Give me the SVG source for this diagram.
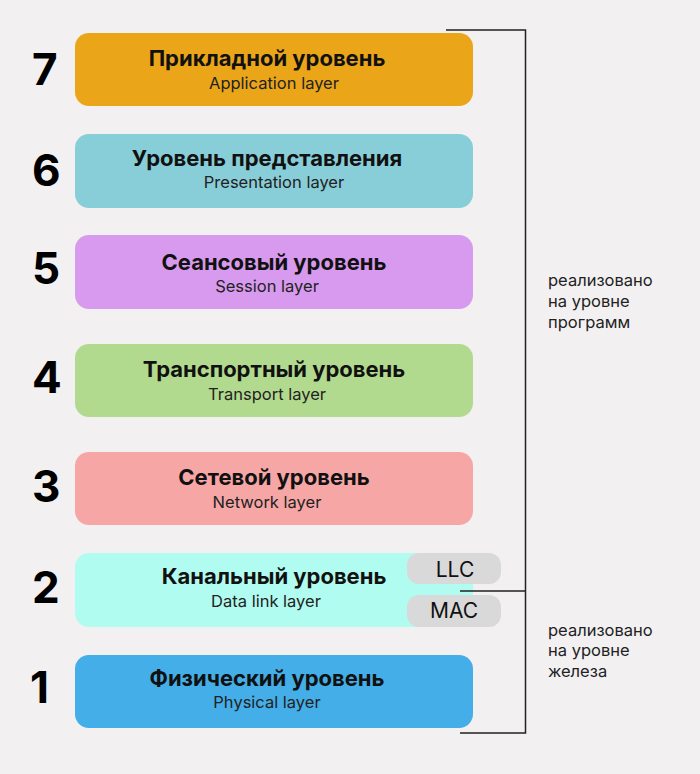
<svg xmlns="http://www.w3.org/2000/svg" width="700" height="774" viewBox="0 0 700 774">
<style>
.num{font-family:Inter,"Liberation Sans",sans-serif;font-weight:700;font-size:44px;fill:#000}
.t{font-family:Inter,"Liberation Sans",sans-serif;font-weight:700;font-size:22px;fill:#111;text-anchor:middle}
.s{font-family:Inter,"Liberation Sans",sans-serif;font-size:16.5px;fill:#222;text-anchor:middle}
.p{font-family:Inter,"Liberation Sans",sans-serif;font-size:21px;fill:#111;text-anchor:middle}
.n{font-family:Inter,"Liberation Sans",sans-serif;font-size:16.5px;fill:#222}
.br{fill:none;stroke:#222;stroke-width:1.5}
</style>
<rect width="700" height="774" fill="#F2F0F1"/>
<g id="layer7">
<rect x="75" y="33" width="398" height="73" rx="14" fill="#EBA519"/>
<text class="num" x="32" y="85">7</text>
<text class="t" x="267" y="66">Прикладной уровень</text>
<text class="s" x="274" y="89">Application layer</text>
</g>
<g id="layer6">
<rect x="75" y="134" width="398" height="74" rx="14" fill="#88CED9"/>
<text class="num" x="32" y="186">6</text>
<text class="t" x="267" y="166">Уровень представления</text>
<text class="s" x="274" y="188">Presentation layer</text>
</g>
<g id="layer5">
<rect x="75" y="235" width="398" height="74" rx="14" fill="#D89AEE"/>
<text class="num" x="32" y="284">5</text>
<text class="t" x="274" y="270">Сеансовый уровень</text>
<text class="s" x="267" y="292">Session layer</text>
</g>
<g id="layer4">
<rect x="75" y="344" width="398" height="73" rx="14" fill="#B2DA8E"/>
<text class="num" x="32" y="393">4</text>
<text class="t" x="274" y="377">Транспортный уровень</text>
<text class="s" x="267" y="400">Transport layer</text>
</g>
<g id="layer3">
<rect x="75" y="452" width="398" height="73" rx="14" fill="#F7A6A6"/>
<text class="num" x="32" y="502">3</text>
<text class="t" x="274" y="485">Сетевой уровень</text>
<text class="s" x="267" y="508">Network layer</text>
</g>
<g id="layer2">
<rect x="75" y="553" width="398" height="74" rx="14" fill="#B1FCF0"/>
<text class="num" x="32" y="603">2</text>
<text class="t" x="274" y="584">Канальный уровень</text>
<text class="s" x="266" y="607">Data link layer</text>
</g>
<g id="llc">
<rect x="407" y="553" width="94" height="31" rx="12" fill="#D9D9D9"/>
<text class="p" x="455" y="577">LLC</text>
</g>
<g id="mac">
<rect x="407" y="595" width="94" height="32" rx="12" fill="#D9D9D9"/>
<text class="p" x="454" y="618">MAC</text>
</g>
<g id="layer1">
<rect x="75" y="655" width="398" height="73" rx="14" fill="#43AEE8"/>
<text class="num" x="30" y="703">1</text>
<text class="t" x="267" y="686">Физический уровень</text>
<text class="s" x="267" y="708">Physical layer</text>
</g>
<g id="connectors">
<path class="br" d="M446 30 H525.5 V733 H460"/>
<path class="br" d="M460 591 H525.5"/>
</g>
<g id="note-software">
<text class="n" x="548" y="286">реализовано</text>
<text class="n" x="548" y="307">на уровне</text>
<text class="n" x="548" y="328">программ</text>
</g>
<g id="note-hardware">
<text class="n" x="548" y="636">реализовано</text>
<text class="n" x="548" y="656">на уровне</text>
<text class="n" x="548" y="677">железа</text>
</g>
</svg>
